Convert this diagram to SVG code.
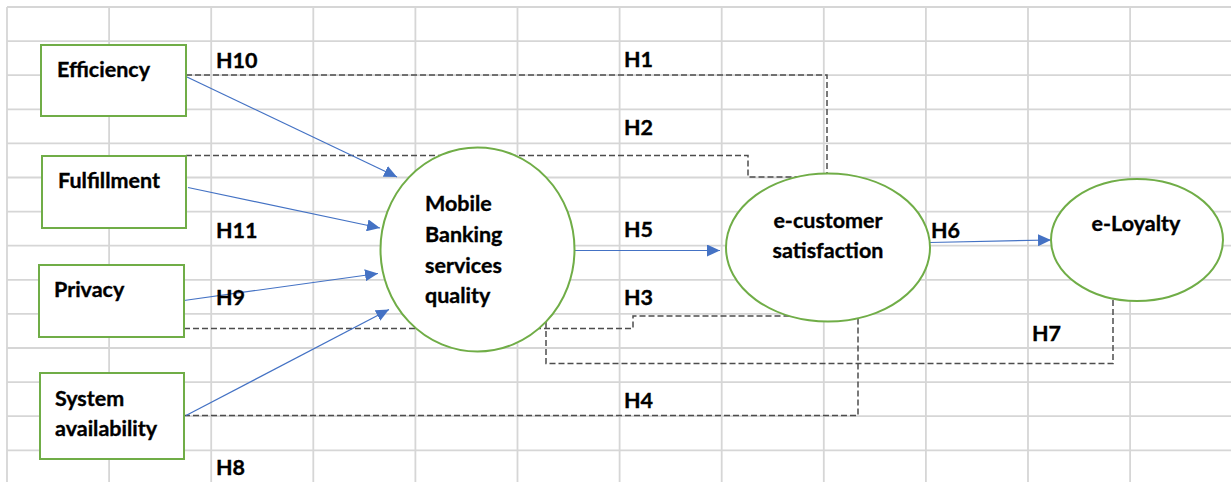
<svg xmlns="http://www.w3.org/2000/svg" width="1231" height="482" viewBox="0 0 1231 482">
  <style>
    .grid { stroke: #d6d6d6; stroke-width: 1.8; fill: none; }
    .box { fill: #ffffff; stroke: #70ad47; stroke-width: 2; }
    .oval { fill: #ffffff; stroke: #70ad47; stroke-width: 2; }
    .lbl { font-family: Lato, "Liberation Sans", sans-serif; font-weight: 700; font-size: 21.5px; fill: #000000; stroke: #000000; stroke-width: 0.35; }
    .mid { text-anchor: middle; }
    .dash { fill: none; stroke: #4d4d4d; stroke-width: 1.5; stroke-dasharray: 6 3; }
    .arrow { fill: none; stroke: #4472c4; stroke-width: 1.2; marker-end: url(#head); }
  </style>
  <defs>
    <marker id="head" markerUnits="userSpaceOnUse" markerWidth="14" markerHeight="12" refX="13" refY="6" orient="auto">
      <path d="M0,0 L13,6 L0,12 Z" fill="#4472c4"/>
    </marker>
  </defs>

  <rect x="0" y="0" width="1231" height="482" fill="#ffffff"/>

  <!-- spreadsheet grid -->
  <path class="grid" d="
    M7,7 V482 M109.1,7 V482 M211.2,7 V482 M313.3,7 V482 M415.4,7 V482 M517.5,7 V482
    M619.6,7 V482 M721.7,7 V482 M823.8,7 V482 M925.9,7 V482 M1028,7 V482 M1130.1,7 V482
    M7,7 H1231 M7,41.1 H1231 M7,75.2 H1231 M7,109.3 H1231 M7,143.4 H1231 M7,177.5 H1231
    M7,211.6 H1231 M7,245.7 H1231 M7,279.8 H1231 M7,313.9 H1231 M7,348 H1231
    M7,382.1 H1231 M7,416.2 H1231 M7,450.3 H1231"/>

  <!-- connectors -->
  <g id="connectors">
    <!-- indirect paths (dashed) -->
    <path class="dash" d="M186,75 H827 V175"/>
    <path class="dash" d="M186,155.5 H748 V177 H802"/>
    <path class="dash" d="M184,328.5 H633 V316 H800"/>
    <path class="dash" d="M184,415.5 H858 V318"/>
    <path class="dash" d="M1113,300 V363.5 H546 V322"/>
    <!-- direct paths -->
    <path class="arrow" d="M187,77 L397,177"/>
    <path class="arrow" d="M188,187.5 L380,228"/>
    <path class="arrow" d="M184,300.5 L378,273.5"/>
    <path class="arrow" d="M186,415.5 L389,309.5"/>
    <path class="arrow" d="M575,250.5 L720,250.5"/>
    <path class="arrow" d="M930,242.5 L1051,240"/>
  </g>

  <!-- hypothesis labels -->
  <g id="labels">
    <text class="lbl" x="216" y="68">H10</text>
    <text class="lbl" x="624" y="67">H1</text>
    <text class="lbl" x="624" y="135">H2</text>
    <text class="lbl" x="216" y="238">H11</text>
    <text class="lbl" x="624" y="237">H5</text>
    <text class="lbl" x="931" y="238">H6</text>
    <text class="lbl" x="216" y="305">H9</text>
    <text class="lbl" x="624" y="305">H3</text>
    <text class="lbl" x="1032" y="341">H7</text>
    <text class="lbl" x="624" y="408">H4</text>
    <text class="lbl" x="216" y="475">H8</text>
  </g>

  <g id="efficiency">
    <rect class="box" x="41" y="45" width="145" height="71"/>
    <text class="lbl" x="57" y="77">Efficiency</text>
  </g>
  <g id="fulfillment">
    <rect class="box" x="42" y="156" width="144" height="72"/>
    <text class="lbl" x="58" y="188">Fulfillment</text>
  </g>
  <g id="privacy">
    <rect class="box" x="39" y="265" width="145" height="72"/>
    <text class="lbl" x="54" y="297">Privacy</text>
  </g>
  <g id="system-availability">
    <rect class="box" x="40" y="373" width="144" height="86"/>
    <text class="lbl" x="55" y="406">System</text>
    <text class="lbl" x="55" y="436">availability</text>
  </g>

  <g id="mobile-banking-quality">
    <ellipse class="oval" cx="477.5" cy="249.5" rx="97" ry="102"/>
    <text class="lbl" x="425" y="211">Mobile</text>
    <text class="lbl" x="425" y="242">Banking</text>
    <text class="lbl" x="425" y="273">services</text>
    <text class="lbl" x="425" y="303">quality</text>
  </g>
  <g id="e-customer-satisfaction">
    <ellipse class="oval" cx="828" cy="247.5" rx="102" ry="74"/>
    <text class="lbl mid" x="828" y="228">e-customer</text>
    <text class="lbl mid" x="828" y="258">satisfaction</text>
  </g>
  <g id="e-loyalty">
    <ellipse class="oval" cx="1137" cy="240" rx="86" ry="61"/>
    <text class="lbl mid" x="1136" y="231">e-Loyalty</text>
  </g>
</svg>
